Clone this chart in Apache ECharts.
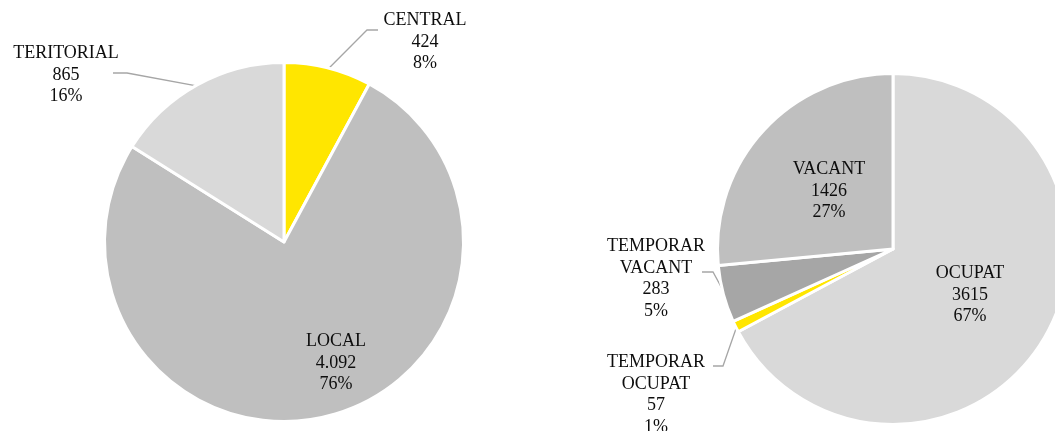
<!DOCTYPE html>
<html>
<head>
<meta charset="utf-8">
<script src="https://cdn.jsdelivr.net/npm/echarts@6/dist/echarts.min.js"></script>
<style>
  html, body { margin: 0; padding: 0; background: #fff; }
  #chart { width: 1055px; height: 431px; }
</style>
</head>
<body>
<div id="chart"></div>
<script>
// left pie
const leftNames = ['CENTRAL', 'LOCAL', 'TERITORIAL'];
const leftValues = [424, 4092, 865];
const leftValueText = ['424', '4.092', '865'];
const leftColors = ['#FFE600', '#BFBFBF', '#D9D9D9'];

// right pie
const rightNames = ['OCUPAT', 'TEMPORAR\nOCUPAT', 'TEMPORAR\nVACANT', 'VACANT'];
const rightValues = [3615, 57, 283, 1426];
const rightValueText = ['3615', '57', '283', '1426'];
const rightColors = ['#D9D9D9', '#FFE600', '#A6A6A6', '#BFBFBF'];

const FONT = '"Liberation Serif", "Times New Roman", serif';
const LEFT_C = [284, 242], LEFT_R = 178;
const RIGHT_C = [893, 249], RIGHT_R = 174;

// label placement: [x, y] of text block centre, plus leader elbow/end (null = inside, no line)
const leftLabelPos = [
  { x: 425, y: 42, line: [[367, 30], [378, 30]] },
  { x: 336, y: 363, line: null },
  { x: 66, y: 75, line: [[127, 73], [113, 73]] }
];
const rightLabelPos = [
  { x: 970, y: 295, line: null },
  { x: 656, y: 395, line: [[723, 366], [713, 366]] },
  { x: 656, y: 279, line: [[713, 272], [702, 272]] },
  { x: 829, y: 191, line: null }
];

// point on the outer edge at the middle angle of slice idx (clockwise from 12 o'clock)
function edgePoint(center, r, values, idx) {
  const total = values.reduce((a, b) => a + b, 0);
  let before = 0;
  for (let i = 0; i < idx; i++) before += values[i];
  const ang = (before + values[idx] / 2) / total * Math.PI * 2;
  return [center[0] + r * Math.sin(ang), center[1] - r * Math.cos(ang)];
}

function makeSeries(names, values, valueText, colors, center, r, pos) {
  return {
    type: 'pie',
    center: center,
    radius: r + 1.5,
    startAngle: 90,
    clockwise: true,
    percentPrecision: 0,
    avoidLabelOverlap: false,
    itemStyle: { borderColor: '#ffffff', borderWidth: 3 },
    emphasis: { disabled: true },
    label: {
      show: true,
      position: 'outside',
      fontFamily: FONT,
      fontSize: 18,
      lineHeight: 21.5,
      color: '#0d0d0d',
      align: 'center',
      formatter: p => p.name + '\n' + valueText[p.dataIndex] + '\n' + p.percent + '%'
    },
    labelLine: {
      show: true,
      lineStyle: { color: '#A6A6A6', width: 1.3 }
    },
    labelLayout: p => {
      const lp = pos[p.dataIndex];
      const out = { x: lp.x, y: lp.y, align: 'center', verticalAlign: 'middle' };
      if (lp.line) {
        out.labelLinePoints = [edgePoint(center, r, values, p.dataIndex), lp.line[0], lp.line[1]];
      } else {
        out.labelLinePoints = [[lp.x, lp.y], [lp.x, lp.y], [lp.x, lp.y]];
      }
      return out;
    },
    data: names.map((n, i) => ({
      name: n,
      value: values[i],
      itemStyle: { color: colors[i] },
      labelLine: { show: !!pos[i].line }
    }))
  };
}

const chart = echarts.init(document.getElementById('chart'));
chart.setOption({
  backgroundColor: '#ffffff',
  animation: false,
  series: [
    makeSeries(leftNames, leftValues, leftValueText, leftColors, LEFT_C, LEFT_R, leftLabelPos),
    makeSeries(rightNames, rightValues, rightValueText, rightColors, RIGHT_C, RIGHT_R, rightLabelPos)
  ]
});
</script>
</body>
</html>
